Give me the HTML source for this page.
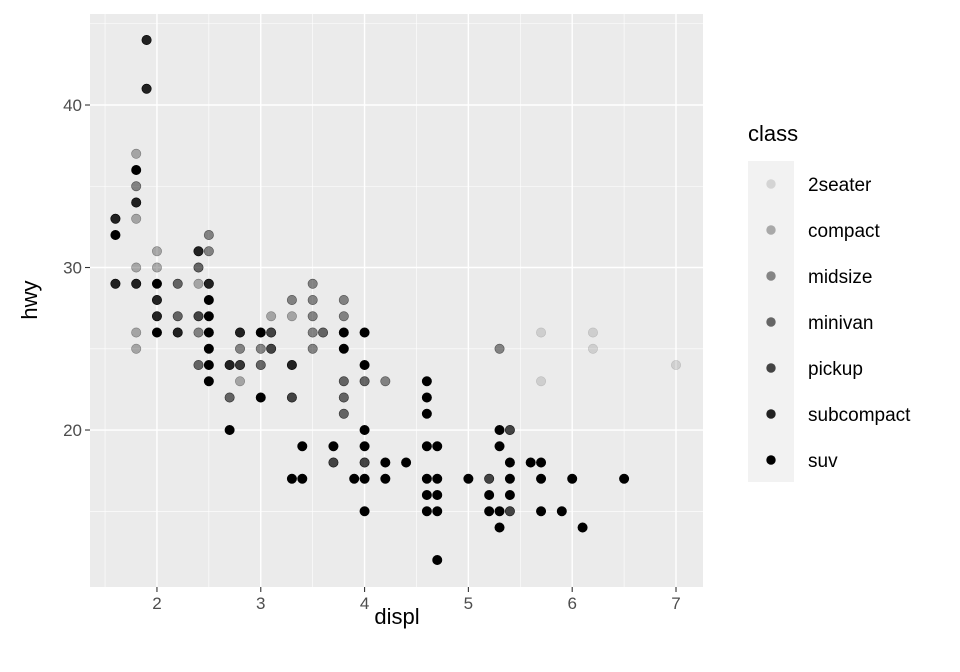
<!DOCTYPE html>
<html><head><meta charset="utf-8"><style>
body{margin:0;background:#fff;}
svg{display:block;font-family:"Liberation Sans",sans-serif;}
</style></head><body>
<svg width="960" height="672" viewBox="0 0 960 672">
<g id="panel"></g>
<g id="legend"></g>
</svg>
<script>
const classes=["2seater","compact","midsize","minivan","pickup","subcompact","suv"];
const alphas=[0.12,0.3,0.45,0.58,0.72,0.86,1.0];
const pts2seater=[[5.7,26],[5.7,23],[6.2,26],[6.2,25],[7.0,24]];
const ptsCompact=[[1.8,37],[1.8,33],[1.8,30],[1.8,26],[1.8,25],[2.0,31],[2.0,30],[2.4,29],[2.8,23],[3.1,27],[3.3,27]];
const ptsMidsize=[[1.8,35],[2.4,26],[2.5,32],[2.5,31],[2.8,25],[2.8,24],[3.0,25],[3.3,28],[3.5,29],[3.5,28],[3.5,27],[3.5,26],[3.5,25],[3.8,28],[3.8,27],[4.2,23],[5.3,25]];
const ptsMinivan=[[2.2,29],[2.2,27],[2.4,30],[2.4,24],[2.7,22],[2.8,24],[3.0,24],[3.6,26],[3.8,23],[3.8,22],[3.8,21],[4.0,23]];
const ptsPickup=[[2.4,27],[3.1,26],[3.1,25],[3.3,22],[3.7,18],[4.0,18],[5.2,17],[5.4,20],[5.4,15]];
const ptsSubcompact=[[1.6,33],[1.6,29],[1.8,34],[1.8,29],[1.9,44],[1.9,41],[2.0,28],[2.0,27],[2.2,26],[2.4,31],[2.5,29],[2.7,24],[2.8,26],[3.3,24]];
const ptsSuv=[[1.6,32],[1.8,36],[2.0,29],[2.0,26],[2.5,28],[2.5,27],[2.5,26],[2.5,25],[2.5,24],[2.5,23],[2.7,20],[3.0,26],[3.0,22],[3.3,17],[3.4,19],[3.4,17],[3.7,19],[3.8,26],[3.8,25],[3.9,17],[4.0,26],[4.0,24],[4.0,20],[4.0,19],[4.0,17],[4.0,15],[4.2,18],[4.2,17],[4.4,18],[4.6,23],[4.6,22],[4.6,21],[4.6,19],[4.6,17],[4.6,16],[4.6,15],[4.7,19],[4.7,17],[4.7,16],[4.7,15],[4.7,12],[5.0,17],[5.2,16],[5.2,15],[5.3,20],[5.3,19],[5.3,15],[5.3,14],[5.4,18],[5.4,17],[5.4,16],[5.6,18],[5.7,18],[5.7,17],[5.7,15],[5.9,15],[6.0,17],[6.1,14],[6.5,17]];
const xTicks=[2,3,4,5,6,7];
const yTicks=[20,30,40];
const groups=[pts2seater,ptsCompact,ptsMidsize,ptsMinivan,ptsPickup,ptsSubcompact,ptsSuv];
const NS="http://www.w3.org/2000/svg";
const px0=90,px1=703,py0=14,py1=587;
const xMin=1.355,xMax=7.26,yMin=10.34,yMax=45.6;
const X=v=>px0+(v-xMin)/(xMax-xMin)*(px1-px0);
const Y=v=>py1-(v-yMin)/(yMax-yMin)*(py1-py0);
function mk(tag,attrs,parent){const e=document.createElementNS(NS,tag);for(const k in attrs)e.setAttribute(k,attrs[k]);parent.appendChild(e);return e;}
const panel=document.getElementById('panel');
const svg=document.querySelector('svg');
let bg=mk('rect',{x:px0,y:py0,width:px1-px0,height:py1-py0,fill:'#ebebeb'},panel);


for(let v=1.5;v<=7;v+=1){let l=mk('line',{x1:X(v),x2:X(v),y1:py0,y2:py1,stroke:'#fff','stroke-width':0.6},panel);

}
for(let v=15;v<=45;v+=10){let l=mk('line',{x1:px0,x2:px1,y1:Y(v),y2:Y(v),stroke:'#fff','stroke-width':0.6},panel);

}
xTicks.forEach(v=>{let l=mk('line',{x1:X(v),x2:X(v),y1:py0,y2:py1,stroke:'#fff','stroke-width':1.4},panel);


let t=mk('line',{x1:X(v),x2:X(v),y1:py1,y2:py1+5,stroke:'#333','stroke-width':1.1},svg);


let tx=mk('text',{x:X(v),y:py1+22,'text-anchor':'middle','font-size':17,fill:'#4d4d4d'},svg);tx.textContent=v;

});
yTicks.forEach(v=>{let l=mk('line',{x1:px0,x2:px1,y1:Y(v),y2:Y(v),stroke:'#fff','stroke-width':1.4},panel);


let t=mk('line',{x1:px0-5,x2:px0,y1:Y(v),y2:Y(v),stroke:'#333','stroke-width':1.1},svg);


let tx=mk('text',{x:px0-8,y:Y(v)+6,'text-anchor':'end','font-size':17,fill:'#4d4d4d'},svg);tx.textContent=v;

});
groups.forEach((g,ci)=>{g.forEach(p=>{
 let c=mk('circle',{cx:X(p[0]),cy:Y(p[1]),r:4.7,fill:'#000','fill-opacity':alphas[ci],stroke:'#000','stroke-opacity':Math.min(1,alphas[ci]*1.2),'stroke-width':0.6},panel);
 
 
});});
let xt=mk('text',{x:397,y:624,'text-anchor':'middle','font-size':22,fill:'#000'},svg);xt.textContent='displ';


let yt=mk('text',{x:0,y:0,'text-anchor':'middle','font-size':22,fill:'#000',transform:'translate(37,300) rotate(-90)'},svg);yt.textContent='hwy';


const lg=document.getElementById('legend');
let lt=mk('text',{x:748,y:141,'font-size':22,fill:'#000'},lg);lt.textContent='class';


let lb=mk('rect',{x:748,y:161,width:46,height:321,fill:'#f2f2f2'},lg);


classes.forEach((c,i)=>{const y=184+i*46;
 let p=mk('circle',{cx:771,cy:y,r:4.7,fill:'#000','fill-opacity':alphas[i]},lg);
 
 
 let t=mk('text',{x:808,y:y+7,'font-size':19,fill:'#000'},lg);t.textContent=c;
 
 
});
</script>
</body></html>
